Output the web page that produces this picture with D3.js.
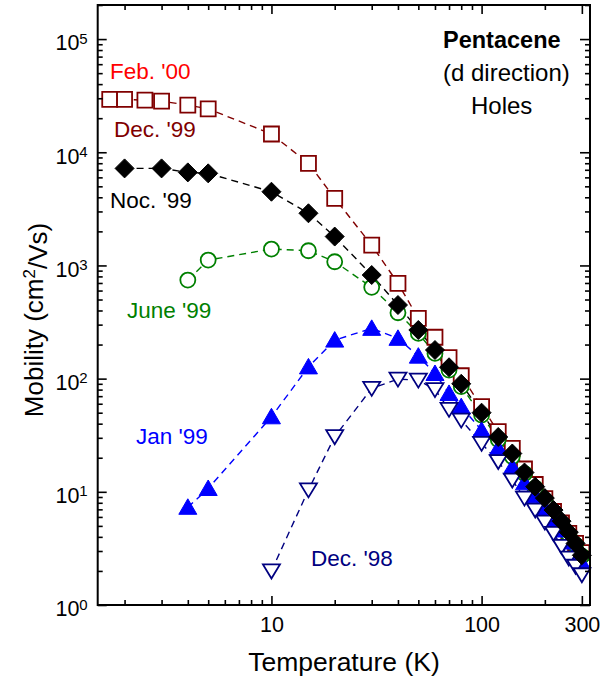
<!DOCTYPE html>
<html>
<head>
<meta charset="utf-8">
<script src="https://cdn.jsdelivr.net/npm/d3@7"></script>
<style>
  html, body { margin: 0; padding: 0; background: #fff; }
  svg { display: block; font-family: "Liberation Sans", Arial, sans-serif; }
</style>
</head>
<body>
<svg id="chart" width="601" height="681"></svg>
<script>
// ---------- data ----------
const tempDec99 = [1.7, 2, 2.5, 3, 4, 5, 10, 15, 20, 30, 40, 50, 60, 70, 80, 100, 120, 140, 160, 180, 200, 220, 240, 260, 280, 300];
const mobDec99  = [29300, 29300, 28900, 28300, 26100, 24200, 14500, 7980, 3920, 1510, 695, 341, 232, 153, 106, 56.5, 34, 24.2, 15.9, 11.6, 8.7, 6.7, 5.3, 4.3, 3.5, 2.9];

const tempJune99 = [4, 5, 10, 15, 20, 30, 40, 50, 60, 70, 80, 100, 120, 140, 160, 180, 200, 220, 240, 260, 280, 300];
const mobJune99  = [743, 1116, 1396, 1349, 1078, 641, 382, 251, 167, 119, 85, 47.7, 29, 20.5, 14.5, 10.8, 8.4, 6.5, 5.2, 4.2, 3.4, 2.7];

const tempJan99 = [4, 5, 10, 15, 20, 30, 40, 50, 60, 70, 80, 100, 120, 140, 160, 180, 200, 220, 240, 260, 280, 300];
const mobJan99  = [7.3, 10.7, 46, 127, 219, 278, 227, 158, 111, 74, 56.5, 35, 24.2, 16.5, 12, 9.3, 7.2, 5.7, 4.6, 3.6, 2.9, 2.35];

const tempDec98 = [10, 15, 20, 30, 40, 50, 60, 70, 80, 100, 120, 140, 160, 180, 200, 220, 240, 260, 280, 300];
const mobDec98  = [2.0, 10.4, 30.7, 82, 99, 97, 80, 53.5, 43, 26.8, 18.5, 12.7, 8.8, 6.9, 5.4, 4.3, 3.3, 2.6, 2.2, 1.85];

const tempNov99 = [2, 3, 4, 5, 10, 15, 20, 30, 40, 50, 60, 70, 80, 100, 120, 140, 160, 180, 200, 220, 240, 260, 280, 300];
const mobNov99  = [7200, 7200, 6640, 6510, 4480, 2890, 1800, 823, 447, 269, 179, 126, 90, 50, 30.5, 21.8, 14.8, 11.1, 8.8, 6.9, 5.5, 4.4, 3.5, 2.75];

const xMajorTicks = [10, 100, 300];
const xMinorTicks = [2, 3, 4, 5, 6, 7, 8, 9, 20, 30, 40, 50, 60, 70, 80, 90, 200];
const yMajorTicks = [1, 10, 100, 1000, 10000, 100000];
const yMinorTicks = [];
[1, 10, 100, 1000, 10000, 100000].forEach(d => { for (let k = 2; k <= 9; k++) if (d * k <= 2e5) yMinorTicks.push(d * k); });

const seriesLabels = [
  { text: "Feb. '00", color: "#ff0000", x: 110, y: 79 },
  { text: "Dec. '99", color: "#800000", x: 114, y: 137 },
  { text: "Noc. '99", color: "#000000", x: 110, y: 208 },
  { text: "June '99", color: "#008000", x: 127, y: 318 },
  { text: "Jan '99",  color: "#0000ff", x: 136, y: 444 },
  { text: "Dec. '98", color: "#000080", x: 311, y: 566 }
];

// ---------- layout ----------
const svg = d3.select("#chart");
const L = 97.7, R = 590, T = 5, B = 605;
const x = d3.scaleLog().domain([1.49, 328]).range([L, R]);
const y = d3.scaleLog().domain([1, 2e5]).range([B, T]);

const series = [
  { t: tempDec99,  m: mobDec99,  color: "#800000", shape: "square",   fill: "#fff" },
  { t: tempJune99, m: mobJune99, color: "#008000", shape: "circle",   fill: "#fff" },
  { t: tempJan99,  m: mobJan99,  color: "#0000ff", shape: "triUp",    fill: "#0000ff" },
  { t: tempDec98,  m: mobDec98,  color: "#000080", shape: "triDown",  fill: "#fff" },
  { t: tempNov99,  m: mobNov99,  color: "#000000", shape: "diamond",  fill: "#000" }
];

const plot = svg.append("g");
const line = d3.line().x(d => x(d[0])).y(d => y(d[1]));

// lines first
series.forEach(s => {
  const pts = s.t.map((t, i) => [t, s.m[i]]);
  plot.append("path").datum(pts)
    .attr("d", line)
    .attr("fill", "none")
    .attr("stroke", s.color)
    .attr("stroke-width", 1.4)
    .attr("stroke-dasharray", "7,5");
});

function shapePath(shape) {
  switch (shape) {
    case "square":  return "M-7.5,-7.5H7.5V7.5H-7.5Z";
    case "circle":  return d3.arc()({innerRadius: 0, outerRadius: 7.5, startAngle: 0, endAngle: 2 * Math.PI});
    case "triUp":   return "M0,-8.5L9,7L-9,7Z";
    case "triDown": return "M0,7.5L8.5,-6.5L-8.5,-6.5Z";
    case "diamond": return "M0,-9.5L9.5,0L0,9.5L-9.5,0Z";
  }
}

series.forEach(s => {
  const pts = s.t.map((t, i) => [t, s.m[i]]);
  plot.append("g").selectAll("path").data(pts).join("path")
    .attr("transform", d => `translate(${x(d[0])},${y(d[1])})`)
    .attr("d", shapePath(s.shape))
    .attr("fill", s.fill)
    .attr("stroke", s.color)
    .attr("stroke-width", s.shape === "triUp" || s.shape === "diamond" ? 1 : 1.8);
});

// ---------- axes ----------
const tickStyle = g => {
  g.select(".domain").remove();
  g.selectAll(".tick line").attr("stroke", "#000").attr("stroke-width", 1.6);
};

// bottom major (labels)
svg.append("g").attr("transform", `translate(0,${B})`)
  .call(d3.axisBottom(x).tickValues(xMajorTicks).tickFormat(d3.format("d")).tickSizeInner(-9).tickSizeOuter(0).tickPadding(12))
  .call(tickStyle)
  .call(g => g.selectAll(".tick text").attr("font-size", 21.5).attr("fill", "#000").attr("font-family", "Liberation Sans, Arial, sans-serif"));
svg.append("g").attr("transform", `translate(0,${B})`)
  .call(d3.axisBottom(x).tickValues(xMinorTicks).tickFormat("").tickSizeInner(-5).tickSizeOuter(0))
  .call(tickStyle);
// top
svg.append("g").attr("transform", `translate(0,${T})`)
  .call(d3.axisTop(x).tickValues(xMajorTicks).tickFormat("").tickSizeInner(-9).tickSizeOuter(0))
  .call(tickStyle);
svg.append("g").attr("transform", `translate(0,${T})`)
  .call(d3.axisTop(x).tickValues(xMinorTicks).tickFormat("").tickSizeInner(-5).tickSizeOuter(0))
  .call(tickStyle);
// left
svg.append("g").attr("transform", `translate(${L},0)`)
  .call(d3.axisLeft(y).tickValues(yMajorTicks).tickSizeInner(-9).tickSizeOuter(0).tickPadding(10).tickFormat(""))
  .call(tickStyle)
  .call(g => g.selectAll(".tick text")
    .attr("font-size", 21.5).attr("fill", "#000").attr("dy", "0.5em")
    .attr("font-family", "Liberation Sans, Arial, sans-serif")
    .each(function(d) {
      const t = d3.select(this);
      t.append("tspan").text("10");
      t.append("tspan").attr("dy", "-0.45em").attr("font-size", 15).text(Math.round(Math.log10(d)));
    }));
svg.append("g").attr("transform", `translate(${L},0)`)
  .call(d3.axisLeft(y).tickValues(yMinorTicks).tickFormat("").tickSizeInner(-5).tickSizeOuter(0))
  .call(tickStyle);
// right
svg.append("g").attr("transform", `translate(${R},0)`)
  .call(d3.axisRight(y).tickValues(yMajorTicks).tickFormat("").tickSizeInner(-10).tickSizeOuter(0))
  .call(tickStyle);
svg.append("g").attr("transform", `translate(${R},0)`)
  .call(d3.axisRight(y).tickValues(yMinorTicks).tickFormat("").tickSizeInner(-5).tickSizeOuter(0))
  .call(tickStyle);

// frame
svg.append("rect").attr("x", L).attr("y", T).attr("width", R - L).attr("height", B - T)
  .attr("fill", "none").attr("stroke", "#000").attr("stroke-width", 2);

// ---------- titles ----------
svg.append("text").attr("x", 344).attr("y", 671).attr("text-anchor", "middle")
  .attr("font-size", 26.5).attr("fill", "#000").text("Temperature (K)");

const yt = svg.append("text").attr("transform", "translate(43,320) rotate(-90)")
  .attr("text-anchor", "middle").attr("font-size", 26).attr("fill", "#000");
yt.append("tspan").text("Mobility (cm");
yt.append("tspan").attr("dy", "-0.45em").attr("font-size", 17).text("2");
yt.append("tspan").attr("dy", "0.45em").text("/Vs)");

// ---------- annotations ----------
svg.append("text").attr("x", 443).attr("y", 48).attr("font-size", 23.5).attr("font-weight", "bold").attr("fill", "#000").text("Pentacene");
svg.append("text").attr("x", 443).attr("y", 81).attr("font-size", 24).attr("fill", "#000").text("(d direction)");
svg.append("text").attr("x", 471).attr("y", 114).attr("font-size", 24).attr("fill", "#000").text("Holes");

svg.append("g").selectAll("text").data(seriesLabels).join("text")
  .attr("x", d => d.x).attr("y", d => d.y)
  .attr("font-size", 22.5).attr("fill", d => d.color).text(d => d.text);
</script>
</body>
</html>
